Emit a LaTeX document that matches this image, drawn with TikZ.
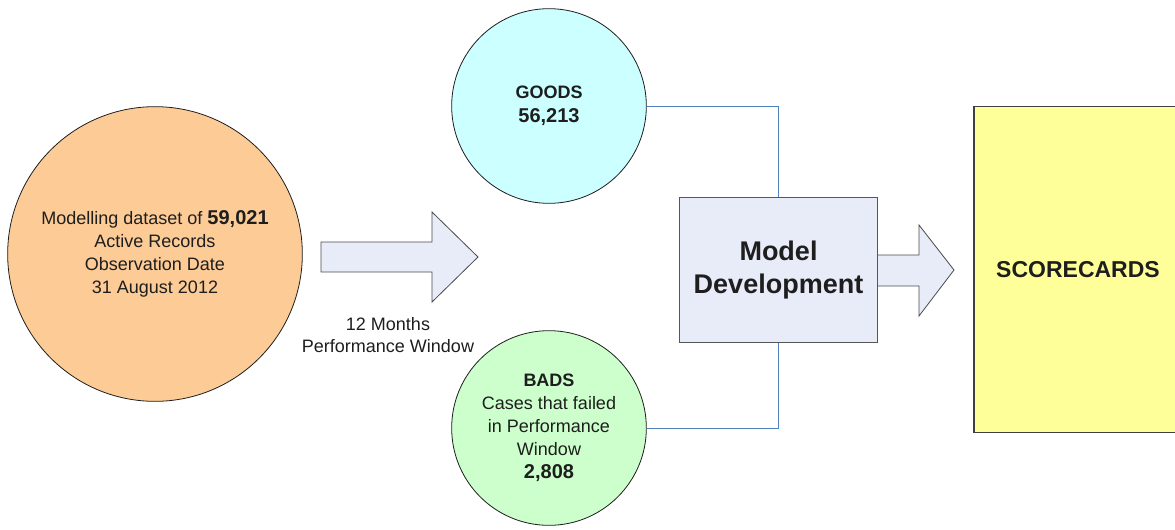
\documentclass[tikz,border=0pt]{standalone}
\usepackage{fontspec}
\setmainfont{Liberation Sans}
\usetikzlibrary{positioning}

\definecolor{peach}{HTML}{FCCB96}
\definecolor{goodfill}{HTML}{CCFFFF}
\definecolor{badfill}{HTML}{CCFFCC}
\definecolor{lavender}{HTML}{E8ECF8}
\definecolor{cardfill}{HTML}{FFFF99}
\definecolor{linkblue}{HTML}{4F81BD}
\definecolor{ink}{HTML}{1E1E1E}

\tikzset{
  blob/.style={circle, draw=ink, line width=0.6pt, align=center, text=ink,
               font=\fontsize{13.5}{17.25}\selectfont, inner sep=0pt},
  blockarrow/.style={draw=ink!80, fill=lavender, line width=0.6pt, line join=miter},
  link/.style={draw=linkblue, line width=0.75pt},
  big/.style={font=\bfseries\fontsize{15}{18}\selectfont}
}

\begin{document}
\begin{tikzpicture}[x=0.75pt, y=-0.75pt]
\useasboundingbox (0,0) rectangle (1175,529);

\node[blob, fill=peach, minimum size=221pt] (data) at (155,254)
  {Modelling dataset of {\bfseries\fontsize{15}{17.25}\selectfont 59,021}\\Active Records\\Observation Date\\31 August 2012};

\draw[blockarrow] (321,242) -- (432,242) -- (432,212) -- (478,257)
  -- (432,302) -- (432,272) -- (321,272) -- cycle;
\node[align=center, text=ink, font=\fontsize{13.5}{16.5}\selectfont] (window) at (388,335)
  {12 Months\\Performance Window};

\node[blob, fill=goodfill, minimum size=146pt, font=\bfseries\fontsize{13.5}{18}\selectfont] (goods) at (549,106)
  {GOODS\\{\fontsize{15}{18}\selectfont 56,213}};
\node[blob, fill=badfill, minimum size=146pt] (bads) at (549,428)
  {{\bfseries BADS}\\Cases that failed\\in Performance\\Window\\{\bfseries\fontsize{15}{17.25}\selectfont 2,808}};

\draw[blockarrow] (870,255) -- (919,255) -- (919,225) -- (954,270)
  -- (919,316) -- (919,286) -- (870,286);

\node[draw=ink!75, line width=0.9pt, fill=lavender, minimum width=148pt, minimum height=109pt,
      align=center, text=ink, font=\bfseries\fontsize{20.25}{24.75}\selectfont] (model) at (778.5,270)
  {Model\\Development};

\draw[link] (goods.east) -| (model.north);
\draw[link] (bads.east) -| (model.south);

\node[draw=ink!85, line width=0.9pt, fill=cardfill, minimum width=156pt, minimum height=244pt,
      text=ink, font=\bfseries\fontsize{17.25}{20}\selectfont] (cards) at (1078,269.5)
  {SCORECARDS};
\end{tikzpicture}
\end{document}
